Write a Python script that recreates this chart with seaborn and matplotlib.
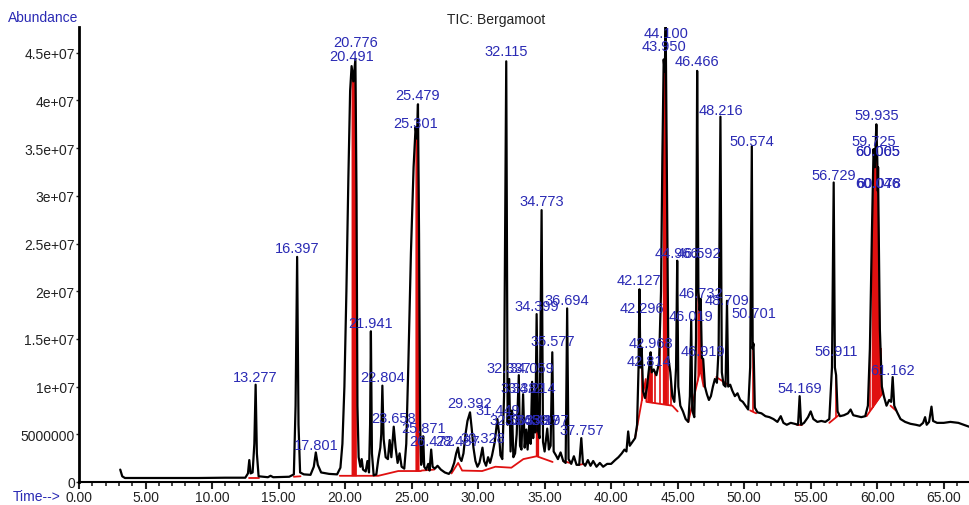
import numpy as np
import pandas as pd
import matplotlib
matplotlib.use("Agg")
import matplotlib.pyplot as plt
import seaborn as sns

# trace vertices (time in min, abundance in 1e6)
trace_t = [3.10, 3.25, 3.45, 6.0, 9.0, 11.0, 12.5, 12.70, 12.80, 12.90, 13.05, 13.18, 13.277, 13.37, 13.50,
           14.2, 14.4, 14.6, 15.8, 16.15, 16.28, 16.397, 16.50, 16.62, 16.9, 17.4, 17.65, 17.801, 17.95,
           18.2, 18.8, 19.4, 19.65, 19.80, 19.95, 20.10, 20.25, 20.38, 20.491, 20.62, 20.776, 20.86, 20.93,
           21.02, 21.15, 21.25, 21.35, 21.55, 21.68, 21.80, 21.88, 21.941, 22.02, 22.15, 22.35, 22.50, 22.65,
           22.72, 22.804, 22.90, 23.05, 23.22, 23.35, 23.48, 23.658, 23.80, 23.95, 24.10, 24.25, 24.45, 24.60,
           24.75, 24.95, 25.15, 25.301, 25.40, 25.479, 25.56, 25.64, 25.72, 25.80, 25.871, 25.95, 26.10, 26.25,
           26.35, 26.472, 26.58, 26.75, 26.95, 27.20, 27.50, 27.80, 28.00, 28.20, 28.35, 28.487, 28.60, 28.75,
           28.90, 29.05, 29.20, 29.392, 29.52, 29.65, 29.80, 29.95, 30.10, 30.22, 30.328, 30.45, 30.60, 30.75,
           30.90, 31.05, 31.25, 31.449, 31.563, 31.68, 31.82, 31.95, 32.115, 32.22, 32.337, 32.44, 32.55, 32.65,
           32.78, 32.90, 33.059, 33.15, 33.26, 33.382, 33.50, 33.62, 33.72, 33.85, 33.95, 34.059, 34.14, 34.214,
           34.30, 34.399, 34.50, 34.62, 34.773, 34.88, 35.00, 35.197, 35.32, 35.45, 35.577, 35.68, 35.85, 36.00,
           36.20, 36.40, 36.58, 36.694, 36.80, 37.00, 37.20, 37.40, 37.60, 37.757, 37.88, 38.05, 38.25, 38.45,
           38.65, 38.90, 39.15, 39.40, 39.70, 40.00, 40.30, 40.55, 40.80, 41.00, 41.15, 41.28, 41.40, 41.60,
           41.80, 41.95, 42.06, 42.127, 42.20, 42.296, 42.40, 42.55, 42.70, 42.814, 42.90, 42.968, 43.05, 43.20,
           43.40, 43.60, 43.75, 43.85, 43.950, 44.03, 44.100, 44.20, 44.30, 44.45, 44.60, 44.75, 44.88, 44.966,
           45.05, 45.20, 45.40, 45.60, 45.80, 45.92, 46.019, 46.10, 46.25, 46.38, 46.466, 46.56, 46.65, 46.732,
           46.82, 46.919, 47.05, 47.20, 47.35, 47.50, 47.65, 47.80, 47.95, 48.08, 48.216, 48.32, 48.45, 48.60,
           48.709, 48.80, 48.95, 49.10, 49.30, 49.50, 49.70, 49.90, 50.10, 50.30, 50.45, 50.574, 50.64, 50.701,
           50.80, 51.00, 51.30, 51.60, 51.90, 52.20, 52.50, 52.75, 52.95, 53.20, 53.50, 53.80, 54.05, 54.169,
           54.28, 54.50, 54.80, 55.00, 55.20, 55.50, 55.80, 56.10, 56.40, 56.60, 56.729, 56.82, 56.911, 57.02,
           57.20, 57.50, 57.80, 58.00, 58.20, 58.50, 58.80, 59.10, 59.30, 59.45, 59.60, 59.725, 59.82, 59.935,
           60.005, 60.046, 60.065, 60.078, 60.20, 60.35, 60.50, 60.70, 60.90, 61.05, 61.162, 61.28, 61.50, 61.75,
           62.10, 62.50, 62.90, 63.20, 63.45, 63.60, 63.72, 63.90, 64.08, 64.20, 64.50, 65.00, 65.50, 66.10,
           66.50, 66.90]
trace_v = [1.3, 0.6, 0.42, 0.42, 0.42, 0.45, 0.45, 0.9, 2.3, 0.9, 1.0, 4.0, 10.2, 3.0, 0.6,
           0.5, 0.65, 0.5, 0.55, 0.8, 8.0, 23.6, 6.0, 1.0, 0.8, 0.75, 1.6, 3.1, 1.8,
           1.0, 0.85, 0.8, 1.5, 4.0, 10.0, 20.0, 32.0, 41.0, 43.6, 42.0, 44.3, 30.0, 8.0,
           2.6, 1.6, 2.4, 1.3, 1.1, 2.2, 1.0, 6.0, 15.8, 3.0, 0.7, 0.8, 2.4, 3.6,
           5.0, 10.1, 4.5, 2.6, 2.4, 4.4, 2.6, 5.8, 3.6, 2.0, 3.0, 1.6, 1.4, 4.0,
           12.0, 24.0, 33.0, 37.2, 36.0, 39.6, 26.0, 6.0, 1.8, 2.5, 4.8, 1.6, 1.3, 1.9,
           1.2, 3.4, 1.6, 1.4, 1.7, 1.3, 1.0, 0.85, 1.2, 2.0, 3.0, 3.6, 2.6, 2.2,
           3.0, 5.0, 6.4, 7.3, 5.6, 3.6, 2.2, 1.6, 2.0, 2.8, 3.6, 2.2, 1.7, 2.6,
           2.0, 2.8, 4.2, 6.6, 5.2, 2.8, 2.4, 9.0, 44.1, 6.0, 10.8, 3.2, 7.5, 2.6,
           3.0, 5.0, 11.2, 3.8, 3.4, 9.2, 3.6, 5.5, 3.4, 6.2, 4.0, 10.5, 4.6, 9.4,
           5.2, 17.6, 5.4, 4.6, 28.5, 4.2, 3.2, 5.6, 3.4, 3.8, 13.6, 3.2, 2.8, 2.4,
           3.1, 2.2, 2.0, 18.2, 2.4, 1.9, 2.7, 1.8, 1.8, 4.6, 2.0, 1.7, 2.3, 1.7,
           2.2, 1.6, 2.0, 1.6, 1.9, 1.9, 2.3, 2.6, 3.0, 3.4, 3.2, 5.3, 3.8, 4.2,
           4.6, 6.0, 12.0, 20.2, 12.0, 14.1, 9.5, 8.8, 10.0, 11.5, 12.5, 13.6, 11.5, 11.8,
           11.2, 12.5, 20.0, 34.0, 44.3, 43.0, 47.8, 30.0, 13.0, 11.5, 9.0, 8.4, 12.0, 23.2,
           10.0, 8.0, 7.4, 6.6, 6.3, 9.0, 17.0, 7.5, 6.8, 15.0, 43.1, 20.0, 18.0, 19.2,
           13.0, 12.9, 10.0, 9.2, 8.6, 9.0, 10.0, 10.8, 10.4, 14.0, 38.3, 11.5, 10.2, 10.0,
           19.0, 10.0, 10.2, 9.6, 9.0, 9.3, 8.6, 8.4, 8.0, 7.6, 12.0, 35.2, 14.0, 14.5,
           7.8, 7.3, 7.2, 6.9, 6.8, 6.6, 6.3, 6.9, 6.2, 6.0, 6.2, 6.1, 6.0, 9.0,
           6.0, 6.2, 6.8, 7.4, 6.6, 6.3, 6.4, 6.3, 6.6, 12.0, 31.4, 12.0, 11.2, 7.4,
           6.9, 7.0, 7.2, 7.6, 7.0, 6.9, 6.8, 6.9, 8.0, 14.0, 26.0, 34.9, 33.0, 37.5,
           33.9, 30.5, 33.0, 30.5, 16.0, 10.0, 9.0, 8.0, 8.6, 8.4, 11.0, 8.0, 7.3, 6.6,
           6.3, 6.1, 6.0, 5.9, 6.2, 6.8, 6.0, 6.3, 7.9, 6.4, 6.2, 6.2, 6.3, 6.2,
           6.0, 5.8]

# peak labels: retention time and the height the label sits at (1e6)
label_t = [13.277, 16.397, 17.801, 20.491, 20.776, 21.941, 22.804, 23.658, 25.301, 25.479, 25.871,
           26.472, 28.487, 29.392, 30.328, 31.449, 32.115, 32.337, 34.059, 33.382, 34.214, 32.563,
           33.639, 34.497, 35.197, 34.399, 34.773, 35.577, 36.694, 37.757, 42.127, 42.296, 42.968,
           42.814, 43.950, 44.100, 44.966, 46.592, 46.466, 46.019, 46.732, 46.919, 48.216, 48.709,
           50.574, 50.701, 54.169, 56.729, 56.911, 59.935, 59.725, 60.005, 60.065, 60.046, 60.078,
           61.162]
label_v = [10.3, 23.8, 3.1, 43.9, 45.4, 15.9, 10.3, 6.0, 36.9, 39.8, 4.9,
           3.6, 3.6, 7.5, 3.9, 6.8, 44.5, 11.2, 11.2, 9.1, 9.1, 5.8,
           5.8, 5.8, 5.8, 17.7, 28.7, 14.0, 18.3, 4.7, 20.4, 17.5, 13.8,
           11.9, 45.0, 46.3, 23.3, 23.3, 43.4, 16.7, 19.1, 13.0, 38.3, 18.3,
           35.0, 17.0, 9.1, 31.5, 13.0, 37.7, 35.0, 34.0, 34.0, 30.6, 30.6,
           11.0]

# red integration baselines (segments)
base_segments = [
    [(12.75, 0.45), (13.5, 0.45)],
    [(16.15, 0.55), (16.65, 0.6)],
    [(19.6, 0.65), (22.5, 0.65), (24.0, 1.15), (25.7, 1.15)],
    [(25.75, 1.2), (26.7, 1.3)],
    [(28.0, 0.9), (28.5, 2.0), (28.8, 1.2), (30.3, 1.15), (31.3, 1.6), (32.5, 1.5), (33.4, 2.4),
     (34.4, 2.7), (35.6, 2.1)],
    [(36.4, 2.2), (36.9, 2.0)],
    [(37.6, 1.8), (37.95, 1.9)],
    [(41.8, 4.6), (42.6, 10.8), (42.65, 8.4), (44.6, 8.0), (45.0, 7.4)],
    [(45.8, 6.3), (46.7, 11.8), (46.95, 10.0)],
    [(47.9, 11.0), (48.9, 10.1)],
    [(50.45, 7.5), (50.9, 7.2)],
    [(54.0, 6.0), (54.35, 6.0)],
    [(56.4, 6.2), (57.1, 7.0)],
    [(59.2, 6.9), (60.45, 9.4)],
    [(61.0, 8.0), (61.4, 7.5)],
]
fill_ranges = [(20.45, 20.85), (25.25, 25.56), (34.3, 34.55), (42.68, 43.1), (43.85, 44.2),
               (46.45, 46.85), (59.55, 60.2)]
drop_t = [42.3, 43.3, 43.65, 44.3, 44.5, 46.9, 50.701, 56.911, 59.45, 59.65, 60.25, 60.35]

xticks = [0, 5, 10, 15, 20, 25, 30, 35, 40, 45, 50, 55, 60, 65]
yticks = [0, 5, 10, 15, 20, 25, 30, 35, 40, 45]
ytick_labels = ["0", "5000000", "1e+07", "1.5e+07", "2e+07", "2.5e+07", "3e+07",
                "3.5e+07", "4e+07", "4.5e+07"]

sns.set_theme(style="white")
plt.rcParams['font.family'] = ['Liberation Sans', 'DejaVu Sans']

M = 1e6
blue = '#2a2ab4'
df = pd.DataFrame({'Time': trace_t, 'Abundance': np.array(trace_v) * M})

fig = plt.figure(figsize=(9.69, 5.06), dpi=100)
ax = fig.add_axes([79 / 969, 23 / 506, 890 / 969, 455 / 506])

# red integration marks under the trace
bt = [p[0] for seg in base_segments for p in seg]
bv = [p[1] for seg in base_segments for p in seg]
for t0, t1 in fill_ranges:
    tt = np.linspace(t0, t1, 60)
    top = np.interp(tt, df['Time'], df['Abundance'])
    bot = np.interp(tt, bt, bv) * M
    ax.fill_between(tt, bot, top, color='#e01010', lw=0)
for seg in base_segments:
    ax.plot([p[0] for p in seg], [p[1] * M for p in seg], color='#e01010', lw=1.3)
for t in drop_t:
    ax.vlines(t, np.interp(t, bt, bv) * M, np.interp(t, df['Time'], df['Abundance']),
              color='#e01010', lw=1.2)

sns.lineplot(data=df, x='Time', y='Abundance', ax=ax, color='black', lw=1.6,
             sort=False, estimator=None)

for t, v in zip(label_t, label_v):
    ax.text(t, v * M, f"{t:.3f}", color=blue, fontsize=10.5, ha='center', va='bottom')

ax.set_xlim(0, 66.9)
ax.set_ylim(0, 47.7 * M)
ax.set_xticks(xticks)
ax.set_xticklabels([f"{x:.2f}" for x in xticks])
ax.set_xticks(np.arange(0, 67, 1), minor=True)
ax.set_yticks([y * M for y in yticks])
ax.set_yticklabels(ytick_labels)
ax.set_xlabel('')
ax.set_ylabel('')
ax.tick_params(axis='x', which='major', direction='out', length=5, width=1.5, pad=1,
               labelsize=10, colors='#222222', bottom=True)
ax.tick_params(axis='x', which='minor', direction='out', length=3, width=1.2, bottom=True)
ax.tick_params(axis='y', direction='out', length=2, width=1, pad=1, labelsize=10,
               colors='#222222', left=True)
for s in ['top', 'right']:
    ax.spines[s].set_visible(False)
ax.spines['left'].set_linewidth(2)
ax.spines['bottom'].set_linewidth(1.5)
ax.spines['left'].set_color('black')
ax.spines['bottom'].set_color('black')

fig.text(43 / 969, 1 - 18 / 506, 'Abundance', color=blue, fontsize=10, ha='center', va='center')
fig.text(37 / 969, 1 - 497 / 506, 'Time-->', color=blue, fontsize=10, ha='center', va='center')
fig.text(496 / 969, 1 - 20 / 506, 'TIC: Bergamoot', color='#222222', fontsize=10,
         ha='center', va='center')

fig.savefig('out.png', dpi=100)
